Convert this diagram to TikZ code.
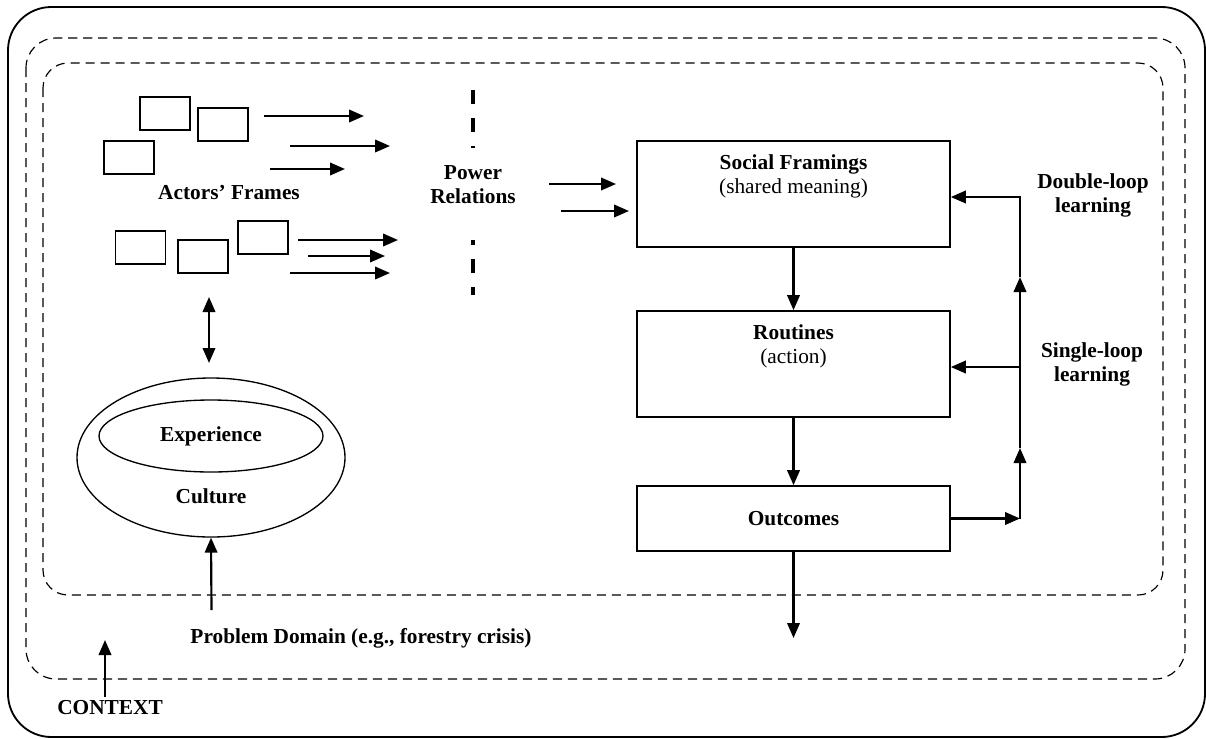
\documentclass[tikz,border=0pt]{standalone}
\usepackage{fontspec}
\setmainfont{Liberation Serif}
\usetikzlibrary{arrows.meta, shapes.geometric, positioning}

\newcommand{\figfont}{\fontsize{12.8}{14.4}\selectfont}

\begin{document}
\begin{tikzpicture}[x=0.6pt, y=-0.6pt,
every node/.style = {font=\figfont, align=center},
lbl/.style = {font=\figfont\bfseries},
frame/.style = {draw, line width=0.9pt, minimum width=30pt, minimum height=19.8pt},
stage/.style = {draw, line width=1pt, minimum width=187.8pt, minimum height=63.6pt},
flow/.style = {line width=1.3pt, -{Triangle[length=9pt, width=7.5pt]}},
zone/.style = {line width=0.7pt, dash pattern=on 5.5pt off 3.5pt},
powerline/.style = {line width=2pt, dash pattern=on 8.4pt off 8.4pt}]
\useasboundingbox (0,0) rectangle (1206,738);

% context and the two dashed zones
\draw[line width=1.1pt, rounded corners=26pt] (8,7) rectangle (1205,737);
\draw[zone, rounded corners=18pt] (26,38) rectangle (1185,679);
\draw[zone, rounded corners=15pt] (43,63) rectangle (1163,595);

% actors' frames
\node[frame] (f1) at (165,113.5) {};
\node[frame] (f2) at (223,124.5) {};
\node[frame] (f3) at (129,157.5) {};
\node[frame] (f4) at (140.5,247.5) {};
\node[frame] (f5) at (203,256.5) {};
\node[frame] (f6) at (263,237.5) {};
\node[lbl] (actors) at (229,193) {Actors' Frames};

\foreach \n/\xa/\xb/\yy in {1/264/364/116, 2/290/390/146, 3/270/345/169,
    4/298/398/240, 5/308/385/256, 6/290/390/273, 7/549/616/184, 8/561/629/211} {
  \coordinate (in\n) at (\xa,\yy);
  \coordinate (out\n) at (\xb,\yy);
  \draw[flow] (in\n) -- (out\n);
}

% power relations
\node[lbl] (power) at (473,184.5) {Power\\Relations};
\coordinate (pw1) at (473,90);
\coordinate (pw2) at (473,148);
\coordinate (pw3) at (473,240);
\coordinate (pw4) at (473,295);
\draw[powerline] (pw1) -- (pw2);
\draw[powerline, dash phase=5.4pt] (pw3) -- (pw4);

% culture and experience
\node[draw, ellipse, line width=0.8pt, inner sep=0pt, minimum width=160.8pt,
  minimum height=95.4pt] (culture) at (211,457.5) {};
\node[draw, ellipse, line width=0.8pt, inner sep=0pt, minimum width=134.4pt,
  minimum height=43.2pt, lbl] (exper) at (211,436) {Experience};
\node[lbl] (cultlbl) at (211,496) {Culture};
\coordinate (dbl1) at (209,297);
\coordinate (dbl2) at (209,363);
\draw[line width=1.3pt, {Triangle[length=9pt, width=7.5pt]}-{Triangle[length=9pt, width=7.5pt]}] (dbl1) -- (dbl2);

% problem domain and context
\node[lbl] (problem) at (361,638) {Problem Domain (e.g., forestry crisis)};
\coordinate (pd) at (211.5,610);
\draw[flow] (pd) -- (culture.south);
\node[lbl] (context) at (110,708) {CONTEXT};
\coordinate (cx1) at (105,697);
\coordinate (cx2) at (105,640);
\draw[flow] (cx1) -- (cx2);

% framings, routines, outcomes
\node[stage] (sf) at (793.5,194) {};
\node[lbl, below=5pt of sf.north] {Social Framings\\\mdseries (shared meaning)};
\node[stage] (rt) at (793.5,364) {};
\node[lbl, below=5pt of rt.north] {Routines\\\mdseries (action)};
\node[stage, minimum height=39pt, lbl] (oc) at (793.5,518.5) {Outcomes};
\coordinate (down) at (796,638);
\draw[flow] (sf.south) -- (rt.north);
\draw[flow] (rt.south) -- (oc.north);
\draw[flow] (oc.south) -- (oc.south |- down);

% learning loops
\coordinate (fb0) at (1020,518.5);
\coordinate (fb1) at (1020,448);
\coordinate (fb2) at (1020,367);
\coordinate (fb3) at (1020,277);
\coordinate (fb4) at (1020,197);
\draw[flow] (oc.east) -- (fb0);
\draw[flow] (fb0) -- (fb1);
\draw[flow] (fb1) -- (fb3);
\draw[flow] (fb2) -- (rt.east |- fb2);
\draw[flow] (fb3) -- (fb4) -- (sf.east |- fb4);
\node[lbl] (double) at (1093,195) {Double-loop\\learning};
\node[lbl] (single) at (1092,364.5) {Single-loop\\learning};
\end{tikzpicture}
\end{document}
